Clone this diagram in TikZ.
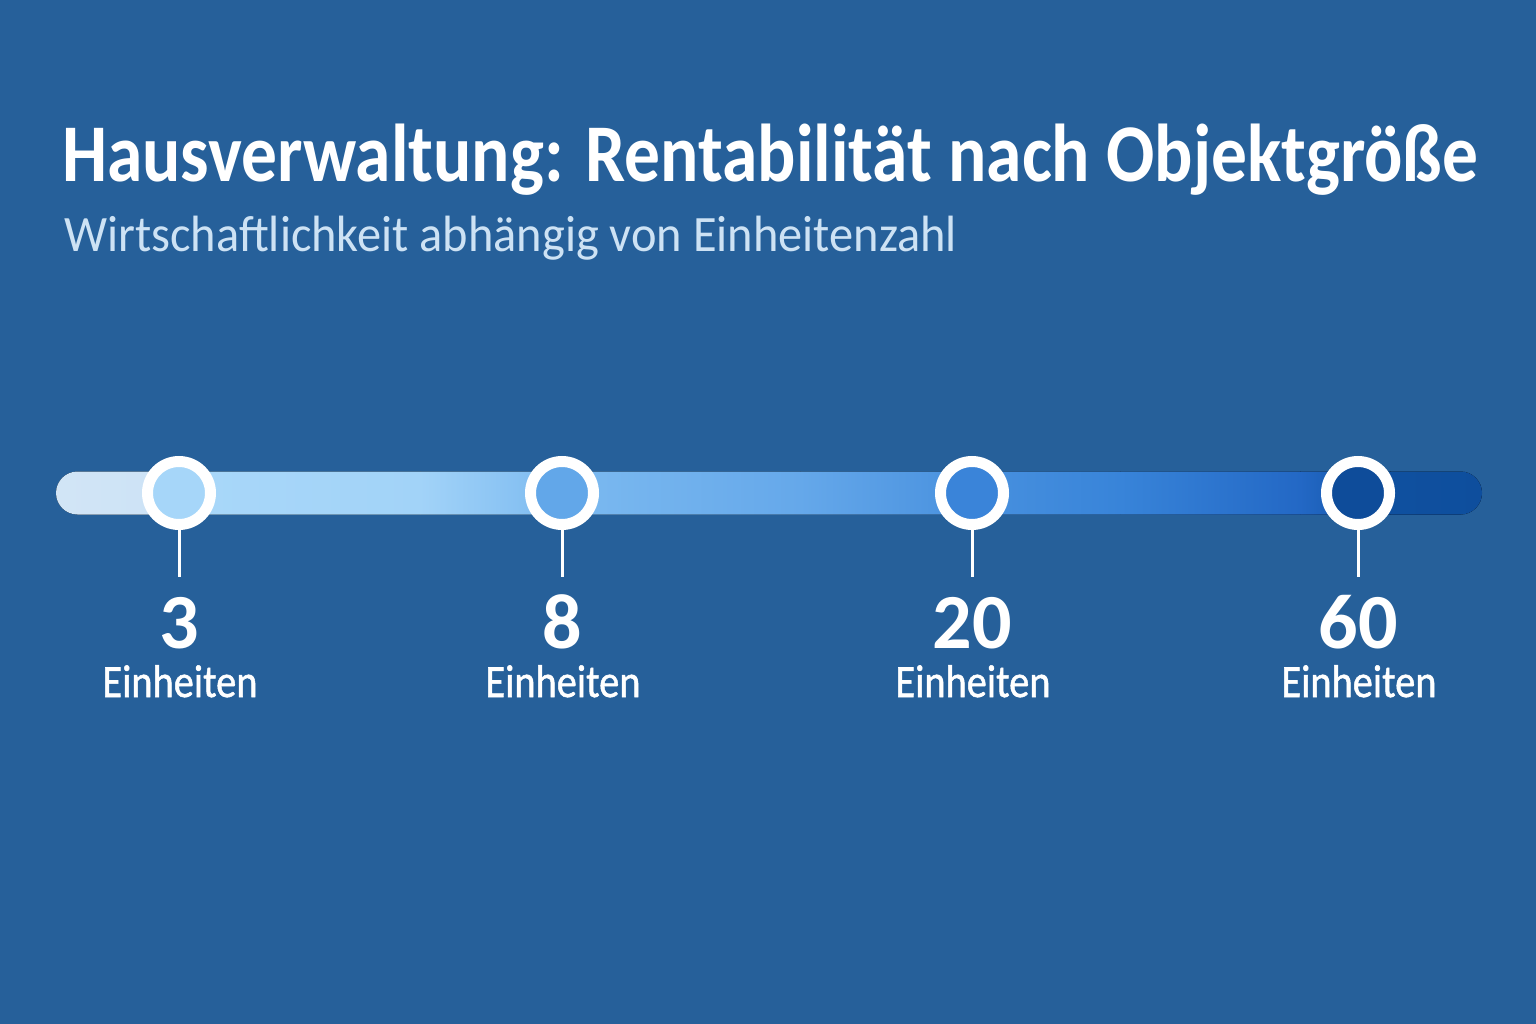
\documentclass[tikz,border=0pt]{standalone}
\usepackage{fontspec}
\setmainfont{Carlito}
\newfontfamily\unitfont[FakeBold=1.2]{Carlito}
\usepackage{graphicx}
\definecolor{bg}{HTML}{26609A}
\definecolor{subc}{HTML}{CDE2F4}
\definecolor{g0}{HTML}{D2E5F6}
\definecolor{g1}{HTML}{CDE3F6}
\definecolor{g2}{HTML}{A8D7F9}
\definecolor{g3}{HTML}{A2D3F8}
\definecolor{g4}{HTML}{7CBAF0}
\definecolor{g5}{HTML}{65A8EA}
\definecolor{g6}{HTML}{4A92DF}
\definecolor{g7}{HTML}{3884D9}
\definecolor{g8}{HTML}{2368C5}
\definecolor{g9}{HTML}{0F509F}
\definecolor{g10}{HTML}{0E4E9D}
\definecolor{c1}{HTML}{A6D6F9}
\definecolor{c2}{HTML}{62A7E9}
\definecolor{c3}{HTML}{3A84D9}
\definecolor{c4}{HTML}{0E4C9A}
\newlength\fitlen
\newcommand\fitw[2]{\settowidth\fitlen{#2}\pgfmathsetmacro\fitr{#1/\fitlen}\scalebox{\fitr}[1]{#2}}
\tikzset{
  marker/.style={circle, minimum size=63pt, inner sep=0pt, draw=white, line width=11pt},
  stem/.style={draw=white, line width=3pt},
  numlabel/.style={anchor=base, text=white, inner sep=0pt, font=\fontsize{78}{80}\selectfont\bfseries},
  unitlabel/.style={anchor=base, text=white, inner sep=0pt, font=\fontsize{46}{48}\selectfont\unitfont},
}
\begin{document}
\begin{tikzpicture}[x=1pt,y=-1pt]
\fill[bg] (0,0) rectangle (1536,1024);
\useasboundingbox (0,0) rectangle (1536,1024);

\node[anchor=base west, inner sep=0pt, text=white] (title) at (62,182)
  {\fitw{1416}{\fontsize{82}{84}\selectfont\bfseries Hausverwaltung: Rentabilität nach Objektgröße}};
\node[anchor=base west, inner sep=0pt, text=subc] (sub) at (64,252)
  {\fitw{893}{\fontsize{51}{53}\selectfont Wirtschaftlichkeit abhängig von Einheitenzahl}};

\begin{scope}
\clip[rounded corners=21.5pt] (56,471.5) rectangle (1482,514.5);
\fill[left color=g0,right color=g1] (50,470) rectangle (150.5,516);
\fill[left color=g1,right color=g2] (150,470) rectangle (205.5,516);
\fill[left color=g2,right color=g3] (205,470) rectangle (420.5,516);
\fill[left color=g3,right color=g4] (420,470) rectangle (560.5,516);
\fill[left color=g4,right color=g5] (560,470) rectangle (800.5,516);
\fill[left color=g5,right color=g6] (800,470) rectangle (960.5,516);
\fill[left color=g6,right color=g7] (960,470) rectangle (1120.5,516);
\fill[left color=g7,right color=g8] (1120,470) rectangle (1300.5,516);
\fill[left color=g8,right color=g9] (1300,470) rectangle (1390.5,516);
\fill[left color=g9,right color=g10] (1390,470) rectangle (1490,516);
\end{scope}

\foreach \i/\x/\c/\n in {1/179/c1/3, 2/562/c2/8, 3/972/c3/20, 4/1358/c4/60}{
  \node[marker, fill=\c] (m\i) at (\x,493) {};
  \coordinate (s\i) at (\x,577);
  \draw[stem] (m\i.south) -- (s\i);
  \node[numlabel] (n\i) at (\x,648) {\n};
  \node[unitlabel] (u\i) at (\x+1,697) {\fitw{155}{Einheiten}};
}
\end{tikzpicture}
\end{document}
